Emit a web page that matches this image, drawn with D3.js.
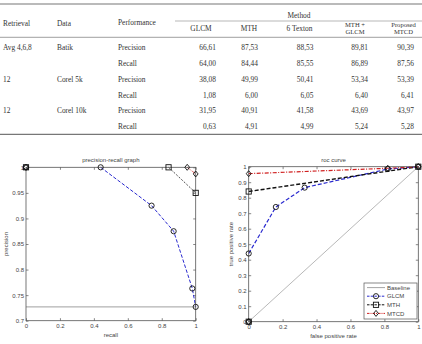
<!DOCTYPE html>
<html>
<head>
<meta charset="utf-8">
<script src="https://cdn.jsdelivr.net/npm/d3@7"></script>
<style>
  body { margin: 0; background: #fff; }
  svg { display: block; }
</style>
</head>
<body>
<div id="chart"></div>
<script>
// ---- table data ----
const retrieval = ['Avg 4,6,8', '', '12', '', '12', '']
const dataset = ['Batik', '', 'Corel 5k', '', 'Corel 10k', '']
const performance = ['Precision', 'Recall', 'Precision', 'Recall', 'Precision', 'Recall']
const methods = [['GLCM'], ['MTH'], ['6 Texton'], ['MTH +', 'GLCM'], ['Proposed', 'MTCD']]
const glcmVals = ['66,61', '64,00', '38,08', '1,08', '31,95', '0,63']
const mthVals = ['87,53', '84,44', '49,99', '6,00', '40,91', '4,91']
const textonVals = ['88,53', '85,55', '50,41', '6,05', '41,58', '4,99']
const mthGlcmVals = ['89,81', '86,89', '53,34', '6,40', '43,69', '5,24']
const mtcdVals = ['90,39', '87,56', '53,39', '6,41', '43,97', '5,28']

// ---- precision-recall graph ----
const prGLCM = [[0, 1], [0.44, 1], [0.74, 0.925], [0.87, 0.875], [0.98, 0.763], [1, 0.727]]
const prMTH = [[0, 1], [0.84, 1], [1, 0.95]]
const prMTCD = [[0, 1], [0.95, 1], [1, 0.987]]
const prBaseline = [[0, 0.727], [1, 0.727]]

// ---- roc curve ----
const rocBaseline = [[0, 0], [1, 1]]
const rocGLCM = [[0, 0], [0, 0.44], [0.16, 0.74], [0.33, 0.865], [0.82, 0.985], [1, 1]]
const rocMTH = [[0, 0], [0, 0.84], [1, 1]]
const rocMTCD = [[0, 0], [0, 0.955], [0.82, 0.99], [1, 1]]

const width = 422, height = 344

const svg = d3.select('#chart').append('svg')
    .attr('width', width)
    .attr('height', height)

// ================= table =================
const tbl = svg.append('g')
    .style('font', '7.4px "Liberation Serif", serif')
    .attr('fill', '#333')

const rowY = d3.scaleLinear().domain([0, 5]).range([47.7, 126.7])
const colRight = [216, 258, 313.5, 368, 414]
const colHead = [201, 249, 299.5, 355, 403.5]
const allVals = [glcmVals, mthVals, textonVals, mthGlcmVals, mtcdVals]

const hline = (y, x1, x2, w, c) => tbl.append('line')
    .attr('x1', x1).attr('x2', x2).attr('y1', y).attr('y2', y)
    .attr('stroke', c).attr('stroke-width', w)

hline(4, 0, 422, 1.2, '#777')
hline(21, 175, 422, 0.7, '#999')
hline(37.3, 0, 422, 0.8, '#888')
hline(134.3, 0, 422, 1.2, '#777')

tbl.append('text').attr('x', 3).attr('y', 23).attr('dy', '0.35em').text('Retrieval')
tbl.append('text').attr('x', 57).attr('y', 23).attr('dy', '0.35em').text('Data')
tbl.append('text').attr('x', 118).attr('y', 22.5).attr('dy', '0.35em').text('Performance')
tbl.append('text').attr('x', 299).attr('y', 15.3).attr('dy', '0.35em')
    .attr('text-anchor', 'middle').text('Method')

methods.forEach((m, i) => {
    m.forEach((line, j) => {
        const two = m.length > 1
        tbl.append('text').attr('x', colHead[i])
            .attr('y', two ? 24.4 + j * 7.6 : 28.5).attr('dy', '0.35em')
            .attr('text-anchor', 'middle')
            .style('font-size', two ? '6.6px' : null)
            .text(line)
    })
})

performance.forEach((p, r) => {
    const y = rowY(r)
    tbl.append('text').attr('x', 3).attr('y', y).attr('dy', '0.35em').text(retrieval[r])
    tbl.append('text').attr('x', 57).attr('y', y).attr('dy', '0.35em').text(dataset[r])
    tbl.append('text').attr('x', 118).attr('y', y).attr('dy', '0.35em').text(p)
    allVals.forEach((vals, c) => {
        tbl.append('text').attr('x', colRight[c]).attr('y', y).attr('dy', '0.35em')
            .attr('text-anchor', 'end').text(vals[r])
    })
})

// ================= plots =================
const font = '6px "Liberation Sans", Arial, sans-serif'
const blue = '#2a2acf', red = '#d02020'

function marker(g, shape, x, y) {
    if (shape === 'circle') {
        g.append('circle').attr('cx', x).attr('cy', y).attr('r', 2.6)
            .attr('fill', 'none').attr('stroke', '#111').attr('stroke-width', 0.9)
    } else if (shape === 'square') {
        g.append('rect').attr('x', x - 2.6).attr('y', y - 2.6).attr('width', 5.2).attr('height', 5.2)
            .attr('fill', 'none').attr('stroke', '#111').attr('stroke-width', 0.9)
    } else {
        g.append('path').attr('d', `M${x},${y - 3}L${x + 2.4},${y}L${x},${y + 3}L${x - 2.4},${y}Z`)
            .attr('fill', 'none').attr('stroke', '#111').attr('stroke-width', 0.9)
    }
}

function plot(opts) {
    const { x, y, xTicks, yTicks, yFmt, title, xLabel, yLabel, series } = opts
    const g = svg.append('g').style('font', font)
    const [x0, x1] = x.range(), [y0, y1] = y.range()

    const tk = 2.5
    const styleAxis = a => {
        a.select('.domain').remove()
        a.selectAll('line').attr('stroke', '#555').attr('stroke-width', 0.7)
        a.selectAll('text').attr('fill', '#444').style('font', font)
    }
    g.append('g').attr('transform', `translate(0,${y0})`)
        .call(d3.axisBottom(x).tickValues(xTicks).tickSize(-tk).tickPadding(3.5).tickFormat(d => String(+d.toFixed(2))))
        .call(styleAxis)
    g.append('g').attr('transform', `translate(0,${y1})`)
        .call(d3.axisTop(x).tickValues(xTicks).tickSize(-tk).tickFormat(''))
        .call(styleAxis)
    g.append('g').attr('transform', `translate(${x0},0)`)
        .call(d3.axisLeft(y).tickValues(yTicks).tickSize(-tk).tickPadding(2).tickFormat(yFmt))
        .call(styleAxis)
    g.append('g').attr('transform', `translate(${x1},0)`)
        .call(d3.axisRight(y).tickValues(yTicks).tickSize(-tk).tickFormat(''))
        .call(styleAxis)

    g.append('text').attr('x', (x0 + x1) / 2).attr('y', y1 - 5).attr('text-anchor', 'middle')
        .attr('fill', '#444').text(title)
    g.append('text').attr('x', (x0 + x1) / 2).attr('y', y0 + 16).attr('text-anchor', 'middle')
        .attr('fill', '#444').text(xLabel)
    g.append('text').attr('transform', `translate(${opts.yLabelX},${(y0 + y1) / 2}) rotate(-90)`)
        .attr('text-anchor', 'middle').attr('fill', '#444').text(yLabel)

    const line = d3.line().x(d => x(d[0])).y(d => y(d[1]))
    series.forEach(s => {
        // the first segment runs along the frame and is hidden by it in the original
        g.append('path').datum(s.data.slice(s.from || 0)).attr('d', line)
            .attr('fill', 'none').attr('stroke', s.color).attr('stroke-width', s.width)
            .attr('stroke-dasharray', s.dash)
    })

    g.append('rect').attr('x', x0).attr('y', y1).attr('width', x1 - x0).attr('height', y0 - y1)
        .attr('fill', 'none').attr('stroke', '#555').attr('stroke-width', 0.8)

    series.forEach(s => {
        if (s.marker) s.data.forEach(d => marker(g, s.marker, x(d[0]), y(d[1])))
    })
    return g
}

// left plot
const xPR = d3.scaleLinear().domain([0, 1]).range([26, 195.7])
const yPR = d3.scaleLinear().domain([0.7, 1]).range([320.7, 167.3])
plot({
    x: xPR, y: yPR,
    xTicks: [0, 0.2, 0.4, 0.6, 0.8, 1],
    yTicks: [0.7, 0.75, 0.8, 0.85, 0.9, 0.95, 1],
    yFmt: d => String(+d.toFixed(2)),
    title: 'precision-recall graph', xLabel: 'recall', yLabel: 'precision', yLabelX: 8,
    series: [
        { data: prBaseline, color: '#888', width: 0.8, dash: null },
        { data: prGLCM, from: 1, color: blue, width: 1, dash: '3.5,1.8', marker: 'circle' },
        { data: prMTH, from: 1, color: '#222', width: 0.8, dash: '2,1.5', marker: 'square' },
        { data: prMTCD, from: 1, color: red, width: 0.8, dash: '3,1.2,1,1.2', marker: 'diamond' }
    ]
})

// right plot
const xROC = d3.scaleLinear().domain([0, 1]).range([248.7, 418.3])
const yROC = d3.scaleLinear().domain([0, 1]).range([321.7, 166.7])
const roc = plot({
    x: xROC, y: yROC,
    xTicks: [0, 0.2, 0.4, 0.6, 0.8, 1],
    yTicks: d3.range(0, 11).map(i => i / 10),
    yFmt: d => String(+d.toFixed(1)),
    title: 'roc curve', xLabel: 'false positive rate', yLabel: 'true positive rate', yLabelX: 233,
    series: [
        { data: rocBaseline, color: '#888', width: 0.6, dash: null },
        { data: rocGLCM, from: 1, color: blue, width: 1.2, dash: '4,2', marker: 'circle' },
        { data: rocMTH, from: 1, color: '#111', width: 1.4, dash: '4,2', marker: 'square' },
        { data: rocMTCD, from: 1, color: red, width: 1.2, dash: '4,1.5,1,1.5', marker: 'diamond' }
    ]
})

// legend
const legendItems = [
    { name: 'Baseline', color: '#666', width: 0.6, dash: null, marker: null },
    { name: 'GLCM', color: blue, width: 1, dash: '2.5,1.2', marker: 'circle' },
    { name: 'MTH', color: '#111', width: 1, dash: '2.5,1.2', marker: 'square' },
    { name: 'MTCD', color: red, width: 1, dash: '2.5,1,1,1', marker: 'diamond' }
]
const lg = roc.append('g')
lg.append('rect').attr('x', 364).attr('y', 283).attr('width', 53).attr('height', 36)
    .attr('fill', '#fff').attr('stroke', '#555').attr('stroke-width', 0.7)
legendItems.forEach((it, i) => {
    const y = 287.6 + i * 8.6
    lg.append('line').attr('x1', 367).attr('x2', 385).attr('y1', y).attr('y2', y)
        .attr('stroke', it.color).attr('stroke-width', it.width).attr('stroke-dasharray', it.dash)
    if (it.marker) marker(lg, it.marker, 376, y)
    lg.append('text').attr('x', 387).attr('y', y).attr('dy', '0.35em').attr('fill', '#444').text(it.name)
})
</script>
</body>
</html>
